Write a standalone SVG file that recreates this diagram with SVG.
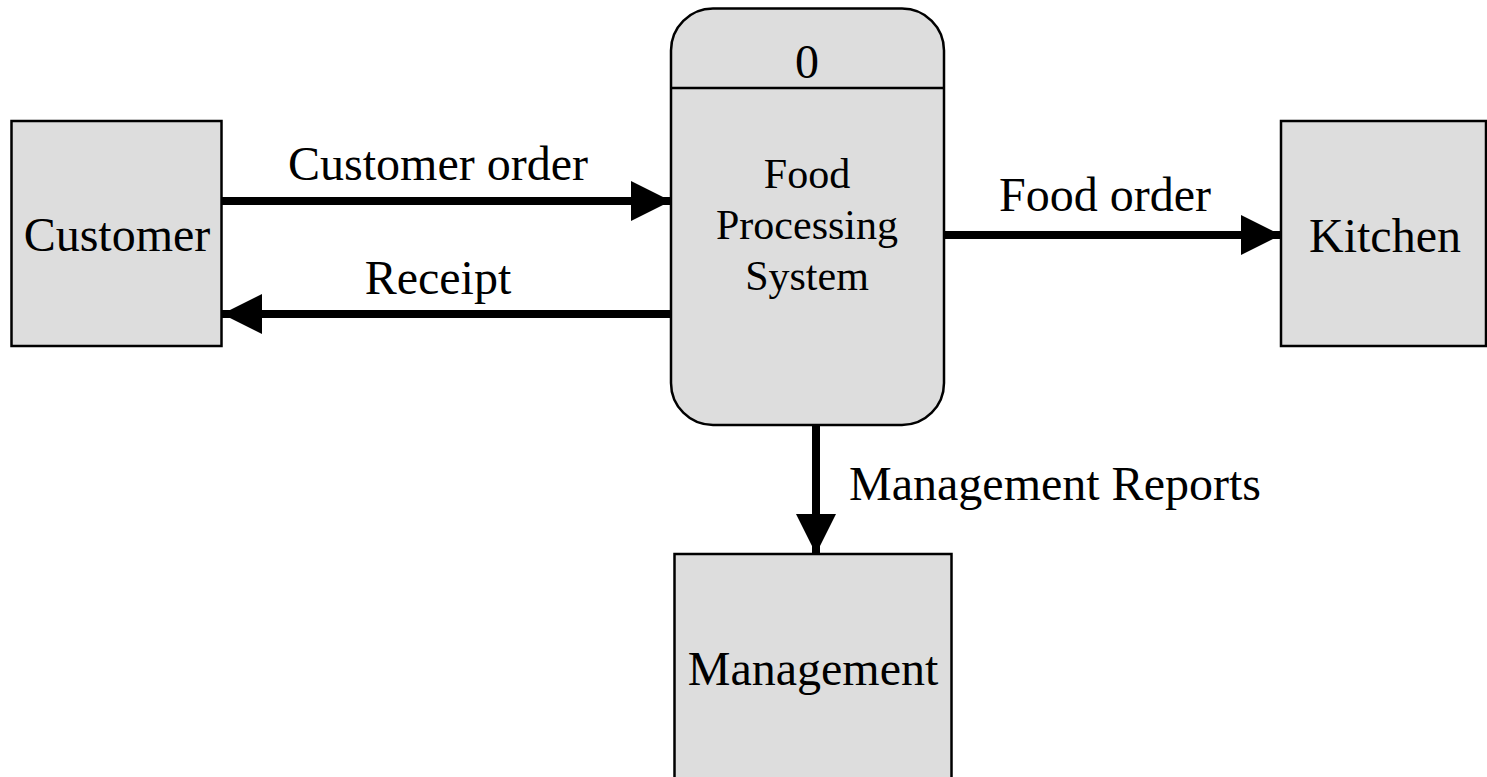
<svg xmlns="http://www.w3.org/2000/svg" width="1487" height="777" viewBox="0 0 1487 777">
  <style>
    .box { fill: #dddddd; stroke: #000000; stroke-width: 2.5; }
    .flow { stroke: #000000; stroke-width: 8; fill: none; }
    .lbl { font-family: "Liberation Serif", "Times New Roman", serif; font-size: 48px; fill: #000000; text-anchor: middle; }
    .plbl { font-family: "Liberation Serif", "Times New Roman", serif; font-size: 42px; fill: #000000; text-anchor: middle; }
  </style>
  <defs>
    <marker id="arrow" viewBox="0 0 40 40" refX="40" refY="20" markerWidth="40" markerHeight="40" markerUnits="userSpaceOnUse" orient="auto">
      <path d="M0,0 L40,20 L0,40 Z" fill="#000000"/>
    </marker>
  </defs>
  <rect width="1487" height="777" fill="#ffffff"/>

  <g id="connectors">
    <line class="flow" x1="222" y1="201" x2="671" y2="201" marker-end="url(#arrow)"/>
    <line class="flow" x1="671" y1="314" x2="222" y2="314" marker-end="url(#arrow)"/>
    <line class="flow" x1="944" y1="235" x2="1281" y2="235" marker-end="url(#arrow)"/>
    <line class="flow" x1="816" y1="425" x2="816" y2="554" marker-end="url(#arrow)"/>
    <text class="lbl" x="438" y="180">Customer order</text>
    <text class="lbl" x="438" y="294">Receipt</text>
    <text class="lbl" x="1105" y="211">Food order</text>
    <text class="lbl" x="1055" y="500">Management Reports</text>
  </g>

  <g id="customer">
    <rect class="box" x="11.5" y="121" width="210" height="225"/>
    <text class="lbl" x="117" y="251">Customer</text>
  </g>

  <g id="process-0">
    <rect class="box" x="671" y="8.5" width="273" height="416.5" rx="42" ry="42"/>
    <line x1="671" y1="88" x2="944" y2="88" stroke="#000000" stroke-width="2.5"/>
    <text class="lbl" x="807" y="78">0</text>
    <text class="plbl" x="807" y="188">Food</text>
    <text class="plbl" x="807" y="239">Processing</text>
    <text class="plbl" x="807" y="290">System</text>
  </g>

  <g id="kitchen">
    <rect class="box" x="1281" y="121" width="205" height="225"/>
    <text class="lbl" x="1385" y="252">Kitchen</text>
  </g>

  <g id="management">
    <rect class="box" x="674.5" y="554" width="277" height="240"/>
    <text class="lbl" x="813" y="685">Management</text>
  </g>
</svg>
